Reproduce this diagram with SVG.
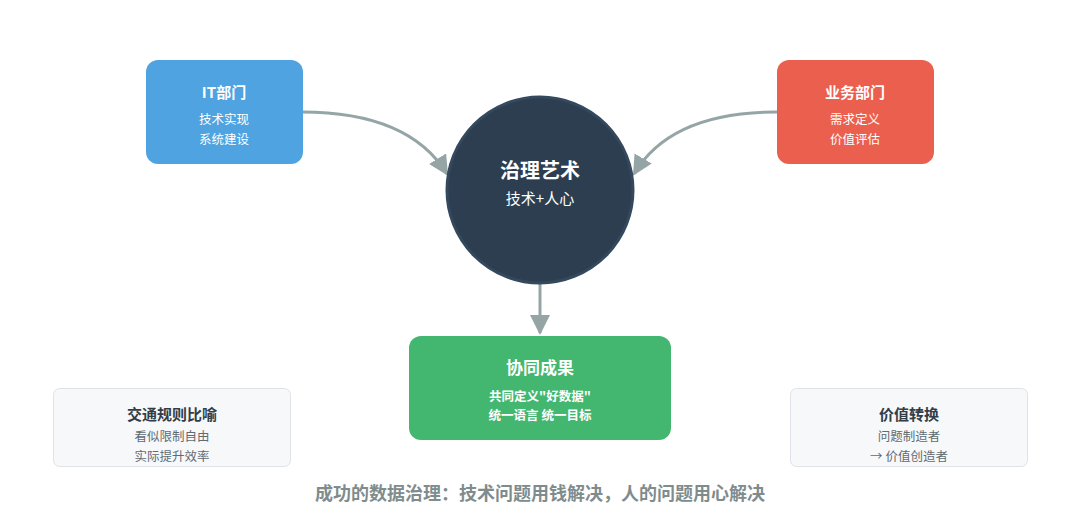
<svg xmlns="http://www.w3.org/2000/svg" width="1080" height="517" viewBox="0 0 1080 517">
<style>
text{font-family:"Noto Sans CJK SC","Noto Sans",sans-serif;text-anchor:middle}
.t{fill:#fff;font-weight:bold;font-size:15px}
.s{fill:#fff;font-size:12.5px}
.gt{fill:#333d47;font-weight:bold;font-size:15px}
.gs{fill:#5f6b73;font-size:12.5px}
.c{fill:none;stroke:#95a5a6;stroke-width:3}
</style>
<defs>
<marker id="h" viewBox="0 0 10 10" refX="9" refY="5" markerWidth="20" markerHeight="20" orient="auto" markerUnits="userSpaceOnUse"><path d="M0,0L10,5L0,10z" fill="#95a5a6"/></marker></defs>
<rect width="1080" height="517" fill="#fff"/>
<g id="connectors">
<path class="c" d="M302,112 C370,112 420,130 447,174" marker-end="url(#h)"/>
<path class="c" d="M777,112 C710,112 660,130 634,174" marker-end="url(#h)"/>
<path class="c" d="M540,283 L540,333" marker-end="url(#h)"/>
</g>
<g id="it"><rect x="146" y="60" width="157" height="104" rx="12" fill="#4fa3e0"/>
<text class="t" x="224" y="98">IT部门</text><text class="s" x="224" y="124">技术实现</text><text class="s" x="224" y="144">系统建设</text></g>
<g id="biz"><rect x="777" y="60" width="157" height="104" rx="12" fill="#eb5f4f"/>
<text class="t" x="855" y="98">业务部门</text><text class="s" x="855" y="124">需求定义</text><text class="s" x="855" y="144">价值评估</text></g>
<g id="center"><circle cx="540" cy="190" r="93" fill="#2d3e50" stroke="#34495e" stroke-width="3"/>
<text class="t" x="540" y="178" style="font-size:20px">治理艺术</text><text class="s" x="540" y="204" style="font-size:15px">技术+人心</text></g>
<g id="result"><rect x="409" y="336" width="262" height="104" rx="12" fill="#43b670"/>
<text class="t" x="540" y="374" style="font-size:17px">协同成果</text><text class="s" x="540" y="401" style="font-weight:bold">共同定义"好数据"</text><text class="s" x="540" y="420" style="font-weight:bold">统一语言 统一目标</text></g>
<g id="traffic"><rect x="53.5" y="388.5" width="237" height="78" rx="6" fill="#f7f8fa" stroke="#dfe3e7"/>
<text class="gt" x="172" y="420">交通规则比喻</text><text class="gs" x="172" y="441">看似限制自由</text><text class="gs" x="172" y="461">实际提升效率</text></g>
<g id="value"><rect x="790.5" y="388.5" width="237" height="78" rx="6" fill="#f7f8fa" stroke="#dfe3e7"/>
<text class="gt" x="909" y="420">价值转换</text><text class="gs" x="909" y="441">问题制造者</text><text class="gs" x="909" y="461">→ 价值创造者</text></g>
<text x="540" y="500" fill="#7f8c8d" font-weight="bold" style="font-size:18px">成功的数据治理：技术问题用钱解决，人的问题用心解决</text>
</svg>
